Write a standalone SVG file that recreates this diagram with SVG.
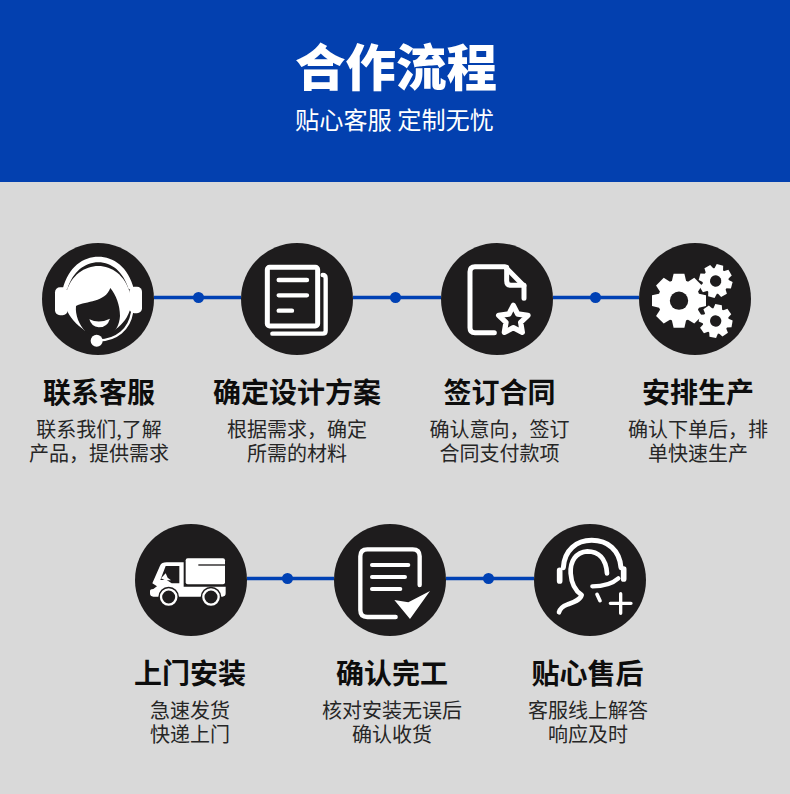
<svg xmlns="http://www.w3.org/2000/svg" width="790" height="794" viewBox="0 0 790 794">
<defs>
<style>
text{font-family:"Noto Sans CJK SC","Noto Sans",sans-serif;text-anchor:middle}
.h1{font-size:50.500px;font-weight:900;fill:#fff}
.h2{font-size:24.200px;fill:#fff}
.t{font-size:28px;font-weight:700;fill:#0d0d0d}
.b{font-size:20px;fill:#262626}
.disc{fill:#1e1c1d}
.w{fill:#fff}
.k{fill:#1e1c1d}
.s{fill:none;stroke:#fff;stroke-linecap:round;stroke-linejoin:round}
.line{stroke:#0041b4;stroke-width:3.400}
.dot{fill:#0041b4}
</style>
<path id="tooth" d="M70 -27L100 -20V20L70 27Z" fill="#fff"/>
<g id="gear">
<circle r="78" fill="#fff"/>
<use href="#tooth"/>
<use href="#tooth" transform="rotate(45)"/>
<use href="#tooth" transform="rotate(90)"/>
<use href="#tooth" transform="rotate(135)"/>
<use href="#tooth" transform="rotate(180)"/>
<use href="#tooth" transform="rotate(225)"/>
<use href="#tooth" transform="rotate(270)"/>
<use href="#tooth" transform="rotate(315)"/>
<circle r="34" fill="#1e1c1d"/>
</g>
</defs>
<rect width="790" height="794" fill="#d9d9d9"/>
<rect width="790" height="182" fill="#0340af"/>
<text class="h1" x="396" y="86">合作流程</text>
<text class="h2" x="394.500" y="129">贴心客服 定制无忧</text>

<g id="connectors">
<path class="line" d="M154 297.500H241M353 297.500H441M553 297.500H639M247 578.500H334M446 578.500H534"/>
<circle class="dot" cx="198.500" cy="297.500" r="5.500"/>
<circle class="dot" cx="395.500" cy="297.500" r="5.500"/>
<circle class="dot" cx="595.500" cy="297.500" r="5.500"/>
<circle class="dot" cx="287.500" cy="578.500" r="5.500"/>
<circle class="dot" cx="488.500" cy="578.500" r="5.500"/>
</g>

<g id="node-1">
<circle class="disc" cx="98" cy="299" r="56"/>
<g transform="translate(30 230) scale(.33333)">
<path class="w" d="M98 178C115 110 160 80 205 80C250 80 295 110 312 178L296 178C280 125 245 97 205 97C165 97 128 125 112 178Z"/>
<rect class="w" x="75" y="172" width="38" height="84" rx="15"/>
<rect class="w" x="298" y="170" width="38" height="80" rx="15"/>
<path class="w" d="M108 190C122 135 165 108 205 108C245 108 285 135 300 190L300 240C290 270 270 290 250 302L165 302C140 285 118 262 108 235Z"/>
<path class="k" d="M138 228C170 212 225 218 241 174C258 195 270 225 270 258C268 285 258 300 248 306C235 318 180 318 165 303C148 285 135 255 138 228Z"/>
<path class="w" d="M178 268Q208 282 240 266Q232 292 206 292Q184 290 178 268Z"/>
<path class="s" style="stroke-width:7" d="M205 332C260 330 298 298 306 248"/>
<circle class="w" cx="200" cy="332" r="18"/>
</g>
<text class="t" x="99" y="403">联系客服</text>
<text class="b" x="99" y="437">联系我们,了解</text>
<text class="b" x="99" y="461">产品，提供需求</text>
</g>

<g id="node-2">
<circle class="disc" cx="297" cy="299" r="56"/>
<g transform="translate(30 230) scale(.33333)">
<path class="s" style="stroke-width:13" d="M878 135Q887 135 887 145V302Q887 311 878 311H727"/>
<rect x="712" y="112" width="151" height="176" rx="7" fill="#1e1c1d" stroke="#fff" stroke-width="15"/>
<path class="s" style="stroke-width:13" d="M746 150H831M746 196H831M746 242H786"/>
</g>
<text class="t" x="297" y="403">确定设计方案</text>
<text class="b" x="297" y="437">根据需求，确定</text>
<text class="b" x="297" y="461">所需的材料</text>
</g>

<g id="node-3">
<circle class="disc" cx="497" cy="299" r="56"/>
<g transform="translate(430 230) scale(.33333)">
<path class="s" style="stroke-width:15" d="M193 308H135Q120 308 120 293V125Q120 110 135 110H225L282 168V205"/>
<path class="s" style="stroke-width:15" d="M230 112V152Q230 166 244 166H282"/>
<path class="s" style="stroke-width:16" d="M250 226L263 252L294 256L272 277L277 307L250 293L223 307L228 277L206 256L237 252Z" fill="#1e1c1d"/>
</g>
<text class="t" x="499.500" y="403">签订合同</text>
<text class="b" x="499.500" y="437">确认意向，签订</text>
<text class="b" x="499.500" y="461">合同支付款项</text>
</g>

<g id="node-4">
<circle class="disc" cx="695" cy="299" r="56"/>
<g transform="translate(430 230) scale(.33333)">
<use href="#gear" transform="translate(747 212) scale(.81)"/>
<use href="#gear" transform="translate(857 153) rotate(15) scale(.5)"/>
<use href="#gear" transform="translate(857 273) rotate(10) scale(.5)"/>
</g>
<text class="t" x="698" y="403">安排生产</text>
<text class="b" x="698" y="437">确认下单后，排</text>
<text class="b" x="698" y="461">单快速生产</text>
</g>

<g id="node-5">
<circle class="disc" cx="191" cy="580" r="56"/>
<g transform="translate(125 515) scale(.33333)">
<rect class="w" x="182" y="130" width="118" height="78" rx="6"/>
<path class="k" d="M220 148H300V152H220Z"/>
<path class="w" d="M82 205L105 152Q110 142 125 142H176V215H302V235Q302 245 292 245H85Q75 245 75 235V228Q75 222 85 222L96 214Z"/>
<path class="k" d="M122 153H163V205H140L125 195L118 195H106Z"/>
<path class="w" d="M108 190L122 175L128 188L138 196H120Z"/>
<circle class="k" cx="131" cy="246" r="31"/>
<circle class="k" cx="258" cy="246" r="31"/>
<circle class="s" style="stroke-width:7" cx="131" cy="246" r="23"/>
<circle class="s" style="stroke-width:7" cx="258" cy="246" r="23"/>
</g>
<text class="t" x="190" y="684">上门安装</text>
<text class="b" x="190" y="718">急速发货</text>
<text class="b" x="190" y="742">快递上门</text>
</g>

<g id="node-6">
<circle class="disc" cx="390" cy="580" r="56"/>
<g transform="translate(125 515) scale(.33333)">
<path class="s" style="stroke-width:13" d="M812 306H727Q706 306 706 285V124Q706 103 727 103H863Q884 103 884 124V210"/>
<path class="s" style="stroke-width:12" d="M741 150H850M741 186H840M741 222H826"/>
<path class="w" d="M808 255L850 262L915 228L855 312Z"/>
</g>
<text class="t" x="392" y="684">确认完工</text>
<text class="b" x="392" y="718">核对安装无误后</text>
<text class="b" x="392" y="742">确认收货</text>
</g>

<g id="node-7">
<circle class="disc" cx="590" cy="580" r="56"/>
<g transform="translate(525 515) scale(.33333)">
<path class="s" style="stroke-width:15" d="M115 158C118 105 155 76 200 76C248 76 284 105 288 158"/>
<path class="s" style="stroke-width:17" d="M104 166V198M296 162V192"/>
<path class="s" style="stroke-width:14" d="M246 175C243 130 220 109 187 109C152 111 135 140 137 175C139 205 152 228 170 240C165 256 145 262 128 268C112 274 104 282 102 292"/>
<path class="s" style="stroke-width:13" d="M202 214C235 214 262 206 280 190"/>
<path class="s" style="stroke-width:11" d="M216 238L225 257"/>
<path class="s" style="stroke-width:10" d="M287 236V295M256 265H318"/>
</g>
<text class="t" x="587.500" y="684">贴心售后</text>
<text class="b" x="588" y="718">客服线上解答</text>
<text class="b" x="588" y="742">响应及时</text>
</g>
</svg>
